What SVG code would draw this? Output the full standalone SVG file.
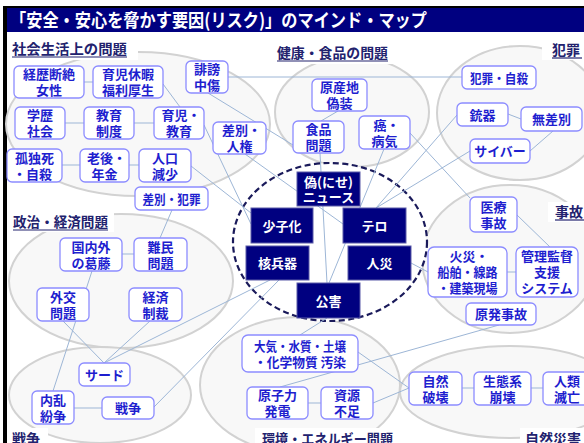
<svg xmlns="http://www.w3.org/2000/svg" width="584" height="443" viewBox="0 0 584 443">
<style>
.el{fill:#f8f8f8;stroke:#d2d2d2;stroke-width:2}
.cn line{stroke:#9db6d6;stroke-width:1}
.nd rect{fill:#fff;stroke:#8c8cff;stroke-width:1.3}
.nd text{font-family:"Noto Sans CJK JP","Noto Sans",sans-serif;font-weight:700;font-size:13px;fill:#1e1ecf;text-anchor:middle}
.cb rect{fill:#000080;stroke:#5a5aa8;stroke-width:1}
.cb text{font-family:"Noto Sans CJK JP","Noto Sans",sans-serif;font-weight:700;font-size:13px;fill:#fff;text-anchor:middle}
.lb text{font-family:"Noto Sans CJK JP","Noto Sans",sans-serif;font-weight:700;font-size:14px;fill:#22226e}
.lb rect{fill:#fff}
.lb line{stroke:#22226e;stroke-width:1.2}
</style>
<rect x="0" y="0" width="584" height="443" fill="#fff"/>
<!-- frame and title -->
<rect x="3" y="6" width="581" height="2" fill="#000"/>
<rect x="3" y="6" width="4" height="437" fill="#000"/>
<rect x="7" y="8" width="577" height="24" fill="#000080"/>
<text x="10" y="27" font-family="'Noto Sans CJK JP','Noto Sans',sans-serif" font-weight="700" font-size="18.5" fill="#fff" textLength="417" lengthAdjust="spacingAndGlyphs">「安全・安心を脅かす要因(リスク)」のマインド・マップ</text>

<!-- group ellipses -->
<g id="groups">
<ellipse class="el" cx="138" cy="124" rx="132" ry="72"/>
<ellipse class="el" cx="352" cy="112" rx="77" ry="55"/>
<ellipse class="el" cx="520" cy="113" rx="83" ry="67"/>
<ellipse class="el" cx="510" cy="259" rx="88" ry="74"/>
<ellipse class="el" cx="121" cy="281" rx="112" ry="67"/>
<ellipse class="el" cx="100" cy="395" rx="91" ry="48"/>
<ellipse class="el" cx="300" cy="385" rx="100" ry="68"/>
<ellipse class="el" cx="510" cy="392" rx="110" ry="46"/>
</g>
<ellipse id="center-circle" cx="330" cy="242" rx="97" ry="79" fill="#fff" stroke="#1a1a5a" stroke-width="2.2" stroke-dasharray="6,3.5"/>

<!-- connectors -->
<g id="connectors" class="cn">
<line x1="84" y1="82" x2="93" y2="82"/>
<line x1="163" y1="84" x2="180" y2="107"/>
<line x1="228" y1="77" x2="462" y2="77"/>
<line x1="208" y1="93" x2="293" y2="145"/>
<line x1="65" y1="123" x2="84" y2="123"/>
<line x1="134" y1="123" x2="154" y2="123"/>
<line x1="204" y1="125" x2="251" y2="224"/>
<line x1="245" y1="154" x2="343" y2="224"/>
<line x1="62" y1="165" x2="80" y2="165"/>
<line x1="129" y1="165" x2="139" y2="165"/>
<line x1="191" y1="166" x2="251" y2="213"/>
<line x1="172" y1="210" x2="160" y2="238"/>
<line x1="122" y1="254" x2="134" y2="254"/>
<line x1="92" y1="271" x2="53" y2="391"/>
<line x1="63" y1="321" x2="104" y2="363"/>
<line x1="150" y1="321" x2="104" y2="363"/>
<line x1="270" y1="280" x2="104" y2="363"/>
<line x1="279" y1="280" x2="154" y2="407"/>
<line x1="74" y1="408" x2="102" y2="408"/>
<line x1="321" y1="121" x2="338" y2="111"/>
<line x1="320" y1="153" x2="327" y2="283"/>
<line x1="384" y1="149" x2="329" y2="283"/>
<line x1="410" y1="133" x2="470" y2="198"/>
<line x1="457" y1="115" x2="376" y2="208"/>
<line x1="470" y1="151" x2="376" y2="208"/>
<line x1="508" y1="114" x2="521" y2="119"/>
<line x1="553" y1="131" x2="530" y2="151"/>
<line x1="517" y1="215" x2="550" y2="247"/>
<line x1="507" y1="272" x2="516" y2="272"/>
<line x1="411" y1="263" x2="428" y2="272"/>
<line x1="499" y1="325" x2="280" y2="387"/>
<line x1="327" y1="318" x2="300" y2="335"/>
<line x1="358" y1="352" x2="409" y2="388"/>
<line x1="373" y1="403" x2="409" y2="388"/>
<line x1="308" y1="403" x2="321" y2="403"/>
<line x1="462" y1="388" x2="474" y2="388"/>
<line x1="531" y1="388" x2="543" y2="388"/>
</g>

<!-- group labels -->
<g id="label-social" class="lb"><rect x="8" y="40" width="130" height="20"/><text x="12" y="54" textLength="115" lengthAdjust="spacingAndGlyphs">社会生活上の問題</text><line x1="12" y1="57" x2="127" y2="57"/></g>
<g id="label-health" class="lb"><rect x="272" y="44" width="120" height="20"/><text x="277" y="58" textLength="111" lengthAdjust="spacingAndGlyphs">健康・食品の問題</text><line x1="277" y1="61" x2="388" y2="61"/></g>
<g id="label-crime" class="lb"><rect x="542" y="40" width="42" height="20"/><text x="552" y="55">犯罪</text><line x1="552" y1="58" x2="582" y2="58"/></g>
<g id="label-accident" class="lb"><rect x="548" y="202" width="36" height="20"/><text x="555" y="217">事故</text><line x1="555" y1="220" x2="584" y2="220"/></g>
<g id="label-politics" class="lb"><rect x="8" y="212" width="106" height="20"/><text x="13" y="227" textLength="95" lengthAdjust="spacingAndGlyphs">政治・経済問題</text><line x1="13" y1="230" x2="108" y2="230"/></g>
<g id="label-war" class="lb"><rect x="8" y="428" width="40" height="15"/><text x="12" y="444">戦争</text></g>
<g id="label-env" class="lb"><rect x="255" y="428" width="145" height="15"/><text x="262" y="444" textLength="131" lengthAdjust="spacingAndGlyphs">環境・エネルギー問題</text></g>
<g id="label-disaster" class="lb"><rect x="520" y="428" width="64" height="15"/><text x="525" y="444">自然災害</text></g>

<!-- nodes -->
<g id="n-keireki" class="nd"><rect x="14" y="66" width="70" height="32" rx="5"/><text x="49" y="79">経歴断絶<tspan x="49" dy="16">女性</tspan></text></g>
<g id="n-ikujikyuka" class="nd"><rect x="93" y="66" width="70" height="32" rx="5"/><text x="128" y="79">育児休暇<tspan x="128" dy="16">福利厚生</tspan></text></g>
<g id="n-hibo" class="nd"><rect x="186" y="61" width="42" height="32" rx="5"/><text x="207" y="74">誹謗<tspan x="207" dy="16">中傷</tspan></text></g>
<g id="n-gakureki" class="nd"><rect x="15" y="107" width="50" height="32" rx="5"/><text x="40" y="120">学歴<tspan x="40" dy="16">社会</tspan></text></g>
<g id="n-kyoikuseido" class="nd"><rect x="84" y="107" width="50" height="32" rx="5"/><text x="109" y="120">教育<tspan x="109" dy="16">制度</tspan></text></g>
<g id="n-ikujikyoiku" class="nd"><rect x="154" y="107" width="50" height="32" rx="5"/><text x="181" y="120">育児・<tspan x="179" dy="16">教育</tspan></text></g>
<g id="n-sabetsujinken" class="nd"><rect x="213" y="122" width="53" height="32" rx="5"/><text x="241.5" y="135">差別・<tspan x="239.5" dy="16">人権</tspan></text></g>
<g id="n-kodokushi" class="nd"><rect x="7" y="149" width="55" height="33" rx="5"/><text x="34.5" y="162.5">孤独死<tspan x="32.5" dy="16">・自殺</tspan></text></g>
<g id="n-rogo" class="nd"><rect x="80" y="149" width="49" height="33" rx="5"/><text x="106.5" y="162.5">老後・<tspan x="104.5" dy="16">年金</tspan></text></g>
<g id="n-jinko" class="nd"><rect x="139" y="149" width="52" height="33" rx="5"/><text x="165" y="162.5">人口<tspan x="165" dy="16">減少</tspan></text></g>
<g id="n-sabetsuhanzai" class="nd"><rect x="135" y="187" width="73" height="23" rx="5"/><text x="171.5" y="203.5" textLength="58" lengthAdjust="spacingAndGlyphs">差別・犯罪</text></g>
<g id="n-gensanchi" class="nd"><rect x="312" y="79" width="55" height="32" rx="5"/><text x="339.5" y="92">原産地<tspan x="339.5" dy="16">偽装</tspan></text></g>
<g id="n-shokuhin" class="nd"><rect x="293" y="121" width="51" height="32" rx="5"/><text x="318.5" y="134">食品<tspan x="318.5" dy="16">問題</tspan></text></g>
<g id="n-gan" class="nd"><rect x="359" y="116" width="51" height="33" rx="5"/><text x="386.5" y="129.5">癌・<tspan x="384.5" dy="16">病気</tspan></text></g>
<g id="n-hanzaijisatsu" class="nd"><rect x="462" y="66" width="74" height="23" rx="5"/><text x="499" y="82.5" textLength="58" lengthAdjust="spacingAndGlyphs">犯罪・自殺</text></g>
<g id="n-juki" class="nd"><rect x="457" y="103" width="51" height="23" rx="5"/><text x="482.5" y="119.5">銃器</text></g>
<g id="n-musabetsu" class="nd"><rect x="521" y="107" width="61" height="24" rx="5"/><text x="551.5" y="124">無差別</text></g>
<g id="n-cyber" class="nd"><rect x="470" y="139" width="60" height="24" rx="5"/><text x="500" y="156">サイバー</text></g>
<g id="n-iryo" class="nd"><rect x="470" y="197" width="47" height="35" rx="5"/><text x="493.5" y="211.5">医療<tspan x="493.5" dy="16">事故</tspan></text></g>
<g id="n-kasai" class="nd"><rect x="428" y="247" width="79" height="50" rx="6"/><text x="469" y="261">火災・<tspan x="467.5" dy="16" textLength="60" lengthAdjust="spacingAndGlyphs">船舶・線路</tspan><tspan x="467.5" dy="16" textLength="60" lengthAdjust="spacingAndGlyphs">・建築現場</tspan></text></g>
<g id="n-kanri" class="nd"><rect x="516" y="247" width="62" height="50" rx="6"/><text x="547" y="261">管理監督<tspan x="547" dy="16">支援</tspan><tspan x="547" dy="16">システム</tspan></text></g>
<g id="n-genpatsu" class="nd"><rect x="466" y="303" width="70" height="22" rx="5"/><text x="501" y="319">原発事故</text></g>
<g id="n-kokunaigai" class="nd"><rect x="60" y="238" width="62" height="33" rx="5"/><text x="91" y="251.5">国内外<tspan x="91" dy="16">の葛藤</tspan></text></g>
<g id="n-nanmin" class="nd"><rect x="134" y="238" width="53" height="33" rx="5"/><text x="160.5" y="251.5">難民<tspan x="160.5" dy="16">問題</tspan></text></g>
<g id="n-gaiko" class="nd"><rect x="37" y="288" width="52" height="33" rx="5"/><text x="63" y="301.5">外交<tspan x="63" dy="16">問題</tspan></text></g>
<g id="n-keizai" class="nd"><rect x="129" y="288" width="53" height="33" rx="5"/><text x="155.5" y="301.5">経済<tspan x="155.5" dy="16">制裁</tspan></text></g>
<g id="n-thaad" class="nd"><rect x="79" y="363" width="51" height="23" rx="5"/><text x="104.5" y="379.5">サード</text></g>
<g id="n-nairan" class="nd"><rect x="32" y="391" width="42" height="33" rx="5"/><text x="53" y="404.5">内乱<tspan x="53" dy="16">紛争</tspan></text></g>
<g id="n-senso" class="nd"><rect x="102" y="397" width="52" height="22" rx="5"/><text x="128" y="413">戦争</text></g>
<g id="n-taiki" class="nd"><rect x="242" y="335" width="116" height="37" rx="6"/><text x="300" y="351" textLength="92" lengthAdjust="spacingAndGlyphs">大気・水質・土壌</text><text x="300" y="367" textLength="92" lengthAdjust="spacingAndGlyphs">・化学物質 汚染</text></g>
<g id="n-genshiryoku" class="nd"><rect x="247" y="387" width="61" height="32" rx="5"/><text x="277.5" y="400">原子力<tspan x="277.5" dy="16">発電</tspan></text></g>
<g id="n-shigen" class="nd"><rect x="321" y="387" width="52" height="32" rx="5"/><text x="347" y="400">資源<tspan x="347" dy="16">不足</tspan></text></g>
<g id="n-shizenhakai" class="nd"><rect x="409" y="372" width="53" height="33" rx="5"/><text x="435.5" y="385.5">自然<tspan x="435.5" dy="16">破壊</tspan></text></g>
<g id="n-seitaikei" class="nd"><rect x="474" y="372" width="57" height="33" rx="5"/><text x="502.5" y="385.5">生態系<tspan x="502.5" dy="16">崩壊</tspan></text></g>
<g id="n-jinrui" class="nd"><rect x="543" y="372" width="48" height="33" rx="5"/><text x="567" y="385.5">人類<tspan x="567" dy="16">滅亡</tspan></text></g>

<!-- center nodes -->
<g id="c-fakenews" class="cb"><rect x="297" y="172" width="63" height="34"/><text x="328.5" y="187">偽(にせ)<tspan x="328.5" dy="15">ニュース</tspan></text></g>
<g id="c-shoshika" class="cb"><rect x="251" y="208" width="62" height="35"/><text x="282" y="230.5">少子化</text></g>
<g id="c-tero" class="cb"><rect x="343" y="208" width="63" height="35"/><text x="374.5" y="230.5">テロ</text></g>
<g id="c-kakuheiki" class="cb"><rect x="246" y="246" width="63" height="34"/><text x="277.5" y="268">核兵器</text></g>
<g id="c-jinsai" class="cb"><rect x="348" y="246" width="63" height="34"/><text x="379.5" y="268">人災</text></g>
<g id="c-kogai" class="cb"><rect x="297" y="283" width="63" height="35"/><text x="328.5" y="305.5">公害</text></g>
</svg>
